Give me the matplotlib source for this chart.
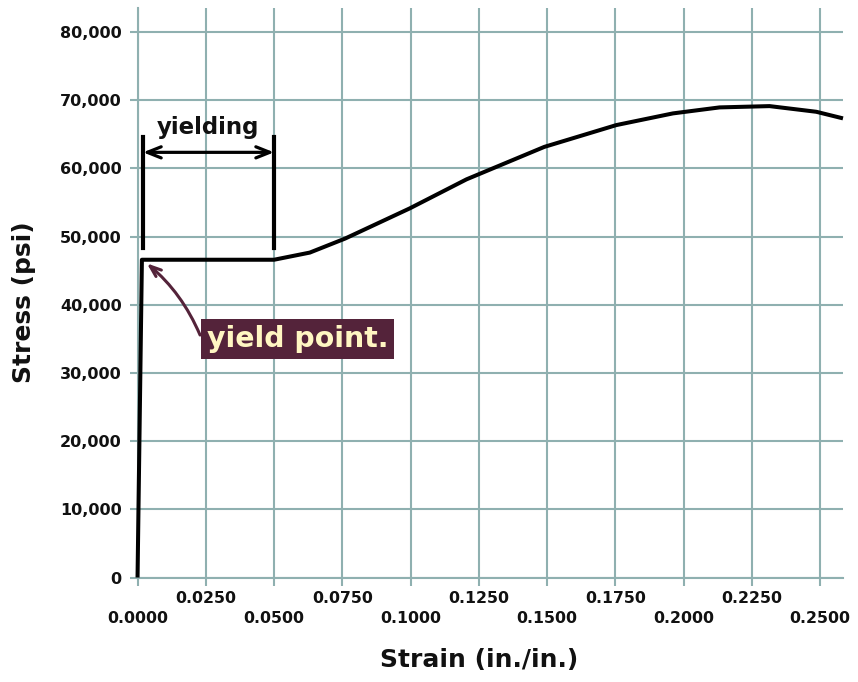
import matplotlib
matplotlib.use("Agg")
import matplotlib.pyplot as plt
import numpy as np

# stress-strain curve
strain = [0.0, 0.0016, 0.0500, 0.0631, 0.0760, 0.0997, 0.1205, 0.1490,
          0.1754, 0.1961, 0.2132, 0.2315, 0.2486, 0.2584]
stress = [0, 46600, 46600, 47650, 49700, 54130, 58390, 63150,
          66350, 68060, 68940, 69130, 68300, 67330]

x_ticks = [0.0, 0.025, 0.05, 0.075, 0.1, 0.125, 0.15, 0.175, 0.2, 0.225, 0.25]
y_ticks = [0, 10000, 20000, 30000, 40000, 50000, 60000, 70000, 80000]

yield_start = 0.0020
yield_end = 0.0500
yield_point = (0.0034, 46070)

GRID = '#8fb0b0'
MAROON = '#54233a'

plt.rcParams['font.family'] = ['DejaVu Sans']
plt.rcParams['font.weight'] = 'bold'

fig = plt.figure(figsize=(8.58, 6.82), dpi=100)
ax = fig.add_axes([0.1603, 0.1532, 0.8222, 0.8346])

ax.set_xlim(0, 0.2584)
ax.set_ylim(0, 83470)

ax.set_xticks(x_ticks)
ax.set_yticks(y_ticks)
xlabels = []
for i, t in enumerate(x_ticks):
    s = '{:.4f}'.format(t)
    # alternate labels between two rows
    xlabels.append('\n' + s if i % 2 == 0 else s)
ax.set_xticklabels(xlabels, fontsize=11.3, fontweight='bold', color='#111111')
for lab in ax.get_xticklabels():
    lab.set_linespacing(1.4)
ax.set_yticklabels(['{:,}'.format(v) for v in y_ticks], fontsize=11.5,
                   fontweight='bold', color='#111111')
ax.tick_params(axis='both', colors=GRID, length=5.5, width=1.5, labelcolor='#111111')
ax.tick_params(axis='x', pad=4.5)
ax.tick_params(axis='y', pad=6)

ax.grid(True, color=GRID, linewidth=1.5)
ax.set_axisbelow(True)
for side in ['top', 'right']:
    ax.spines[side].set_visible(False)
for side in ['left', 'bottom']:
    ax.spines[side].set_color(GRID)
    ax.spines[side].set_linewidth(1.5)

ax.plot(strain, stress, color='black', linewidth=2.9, solid_capstyle='butt',
        clip_on=False, zorder=5)

# yielding bracket
for xv in [yield_start, yield_end]:
    ax.plot([xv, xv], [48270, 64630], color='black', linewidth=3, zorder=5)
ax.annotate('', xy=(yield_start, 62350), xytext=(yield_end, 62350),
            arrowprops=dict(arrowstyle='<->,head_length=1.0,head_width=0.4',
                            color='black', lw=2.3, shrinkA=0, shrinkB=0), zorder=6)
ax.text(0.0258, 66050, 'yielding', fontsize=16.5, fontweight='bold',
        ha='center', va='center', color='#111111')

# yield point callout
ax.annotate('', xy=yield_point, xytext=(0.0229, 35560),
            arrowprops=dict(arrowstyle='->,head_length=0.8,head_width=0.3',
                            color=MAROON, lw=2.2, shrinkA=0, shrinkB=0,
                            connectionstyle='arc3,rad=0.12'), zorder=6)
ax.text(0.0587, 34970, 'yield point.', fontsize=20.4, fontweight='bold',
        ha='center', va='center', color='#fff6c2', zorder=7,
        bbox=dict(boxstyle='square,pad=0.2', facecolor=MAROON, edgecolor='none'))

fig.text(479 / 858, 1 - 660 / 682, 'Strain (in./in.)', fontsize=18,
         fontweight='bold', ha='center', va='center', color='#111111')
fig.text(24.5 / 858, 1 - 301.7 / 682, 'Stress (psi)', fontsize=18,
         fontweight='bold', ha='center', va='center', rotation=90, color='#111111')

fig.savefig('out.png', dpi=100)
